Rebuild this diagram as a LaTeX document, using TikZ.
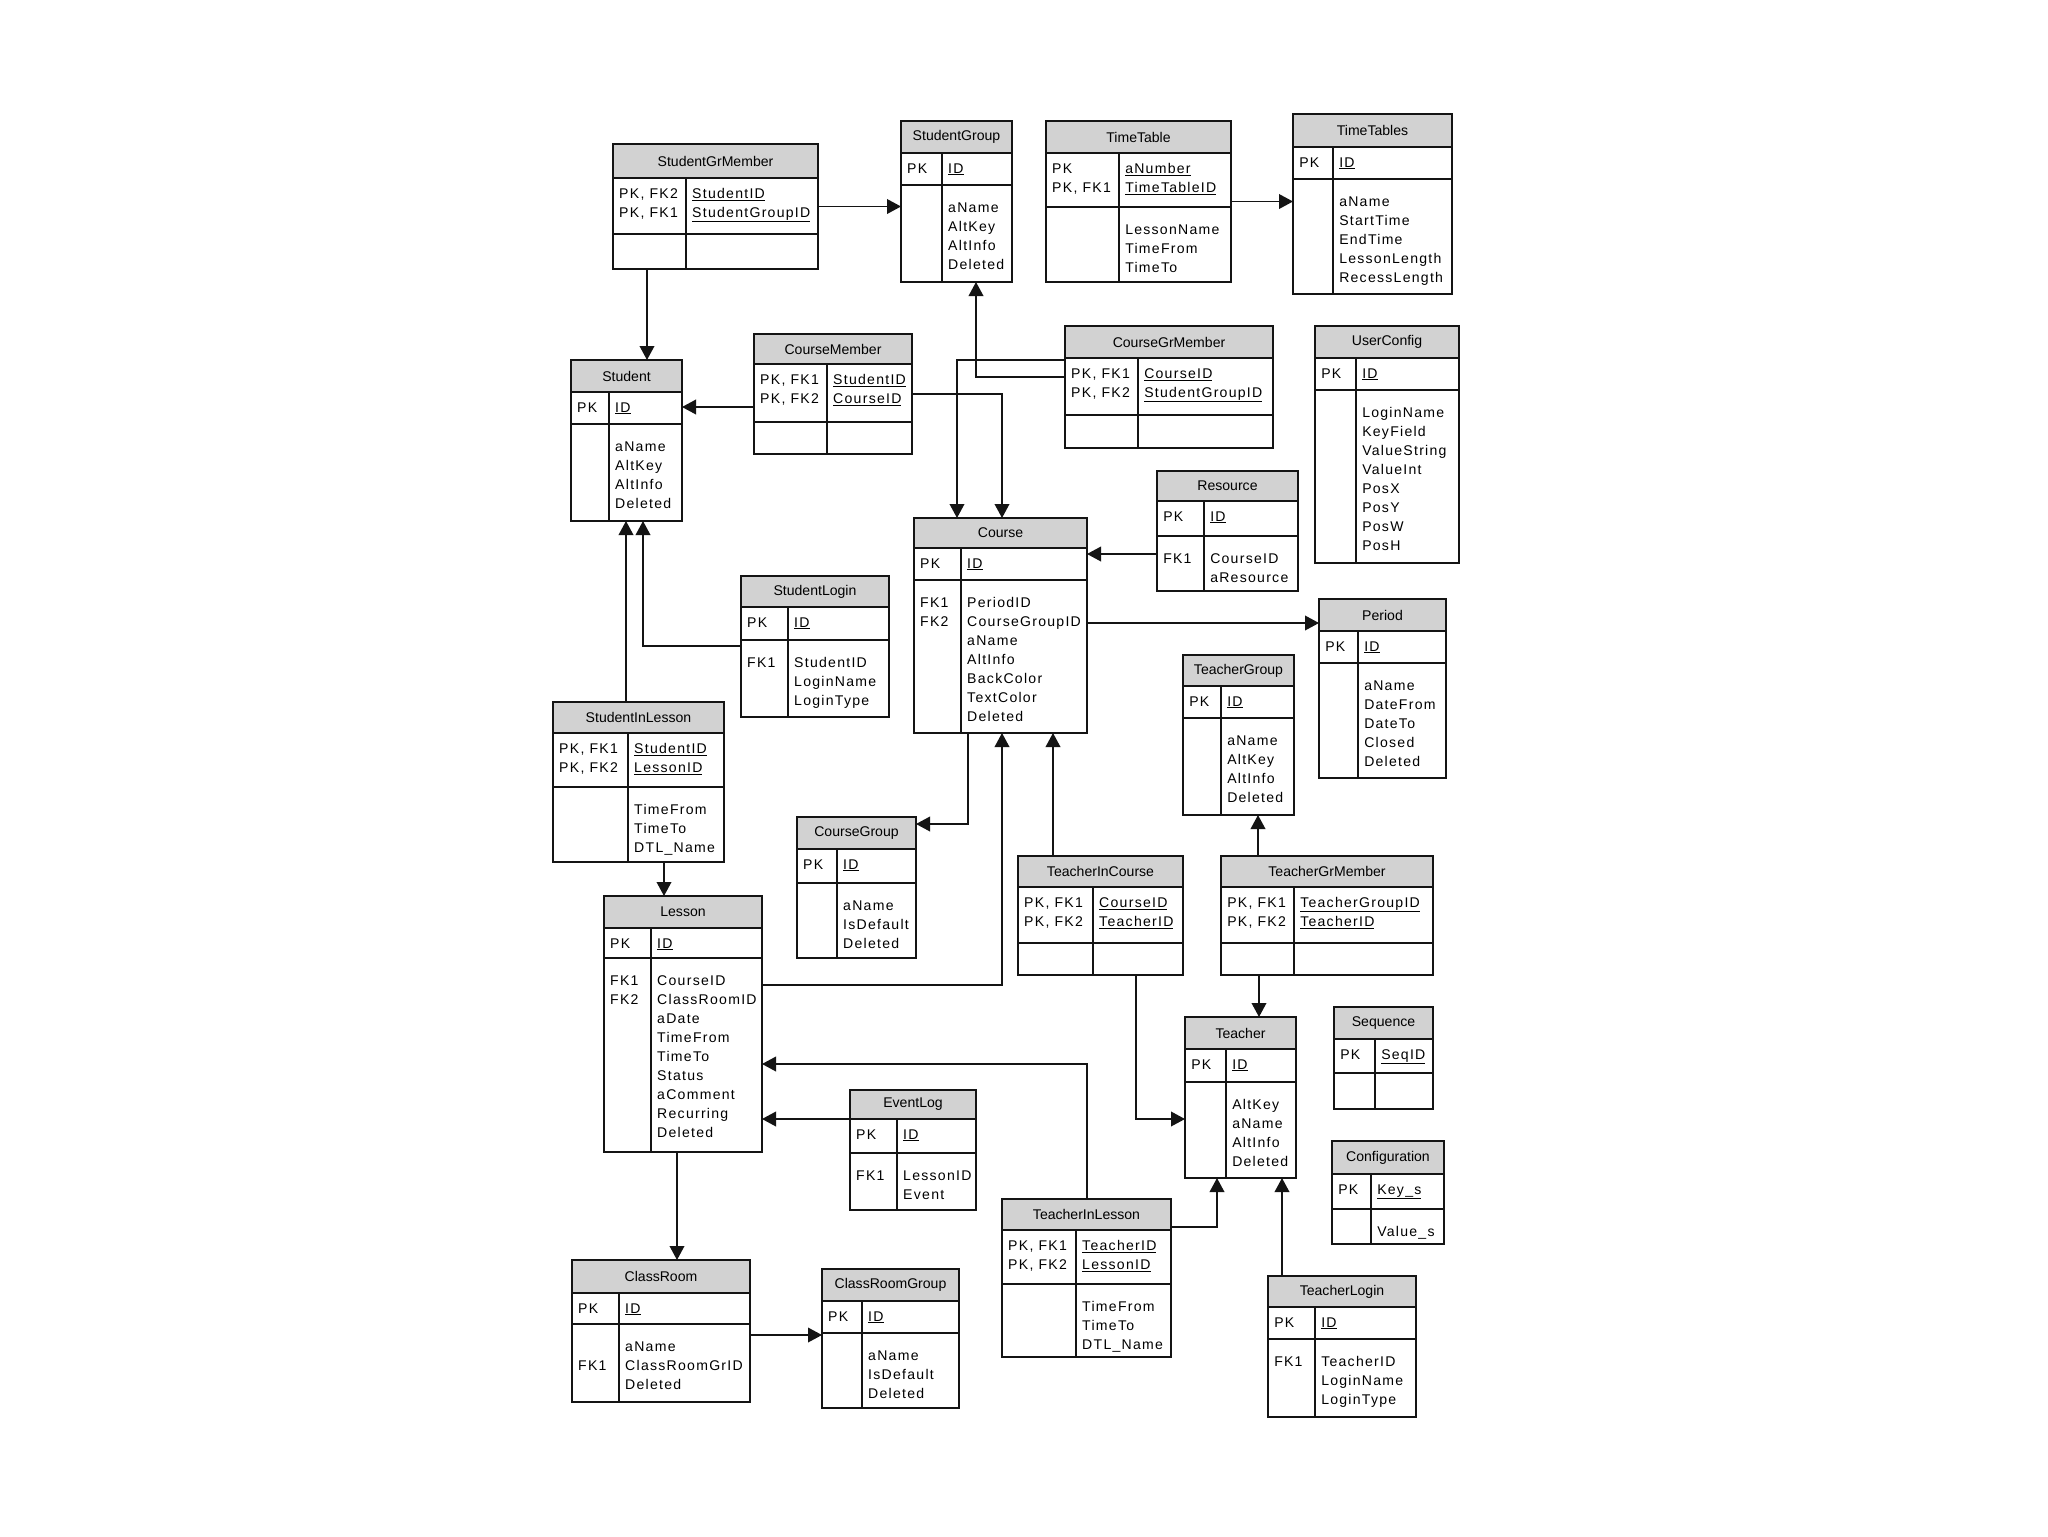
\documentclass[tikz,border=0pt]{standalone}
\usepackage{fontspec}
\setmainfont{Liberation Sans}
\newfontfamily\cellfamily{Liberation Sans}[LetterSpace=9]
\usetikzlibrary{arrows.meta, calc, fit}
\definecolor{hdrgray}{HTML}{D2D2D2}
\definecolor{inkblack}{HTML}{141414}
\tikzset{
  tbl/.style={draw=inkblack, line width=1.4pt},
  hdr/.style={font=\fontsize{12}{14}\selectfont, inner sep=0pt},
  cell/.style={font=\cellfamily\fontsize{12}{14}\selectfont, anchor=base west, inner sep=0pt},
  fk/.style={-{Triangle[length=0.42cm, width=0.44cm]}, line width=1.3pt, draw=inkblack},
}
% name, x1, y1, x2, y2, header bottom, key bottom, divider, title
\newcommand\ertable[9]{%
  \node[fit={(#2,#3) (#4,#5)}, inner sep=0pt, outer sep=0pt] (#1) {};
  \fill[hdrgray] (#2,#3) rectangle (#4,#6);
  \draw[tbl] (#2,#3) rectangle (#4,#5) (#2,#6) -- (#4,#6) (#2,#7) -- (#4,#7) (#8,#6) -- (#8,#5);
  \node[hdr] (#1-title) at ($(#2,#3)!0.5!(#4,#6)$) {#9};
  \coordinate (#1-k) at (#2+6,#6+20);
  \coordinate (#1-kn) at (#8+6,#6+20);
  \coordinate (#1-a) at (#2+6,#7+27);
  \coordinate (#1-an) at (#8+6,#7+27);
}
\newcommand\erlines[2]{%
  \foreach \txt [count=\i from 0] in {#2}
    \node[cell] (#1-\i) at ($(#1)+(0,19*\i)$) {\txt};
}
\begin{document}
\begin{tikzpicture}[x=0.03cm, y=-0.03cm]
  \path[use as bounding box, fill=white] (0,0) rectangle (2048,1536);

  \ertable{StudentGrMember}{613}{144}{818}{269}{178}{234}{686}{StudentGrMember}
  \erlines{StudentGrMember-k}{{PK, FK2},{PK, FK1}}
  \erlines{StudentGrMember-kn}{\underline{StudentID},\underline{StudentGroupID}}

  \ertable{StudentGroup}{901}{121}{1012}{282}{153}{185}{942}{StudentGroup}
  \erlines{StudentGroup-k}{PK}
  \erlines{StudentGroup-kn}{\underline{ID}}
  \erlines{StudentGroup-an}{aName,AltKey,AltInfo,Deleted}

  \ertable{TimeTable}{1046}{121}{1231}{282}{153}{207}{1119}{TimeTable}
  \erlines{TimeTable-k}{PK,{PK, FK1}}
  \erlines{TimeTable-kn}{\underline{aNumber},\underline{TimeTableID}}
  \erlines{TimeTable-an}{LessonName,TimeFrom,TimeTo}

  \ertable{TimeTables}{1293}{114}{1452}{294}{147}{179}{1333}{TimeTables}
  \erlines{TimeTables-k}{PK}
  \erlines{TimeTables-kn}{\underline{ID}}
  \erlines{TimeTables-an}{aName,StartTime,EndTime,LessonLength,RecessLength}

  \ertable{Student}{571}{360}{682}{521}{392}{424}{609}{Student}
  \erlines{Student-k}{PK}
  \erlines{Student-kn}{\underline{ID}}
  \erlines{Student-an}{aName,AltKey,AltInfo,Deleted}

  \ertable{CourseMember}{754}{334}{912}{454}{364}{422}{827}{CourseMember}
  \erlines{CourseMember-k}{{PK, FK1},{PK, FK2}}
  \erlines{CourseMember-kn}{\underline{StudentID},\underline{CourseID}}

  \ertable{CourseGrMember}{1065}{326}{1273}{448}{358}{415}{1138}{CourseGrMember}
  \erlines{CourseGrMember-k}{{PK, FK1},{PK, FK2}}
  \erlines{CourseGrMember-kn}{\underline{CourseID},\underline{StudentGroupID}}

  \ertable{UserConfig}{1315}{326}{1459}{563}{358}{390}{1356}{UserConfig}
  \erlines{UserConfig-k}{PK}
  \erlines{UserConfig-kn}{\underline{ID}}
  \erlines{UserConfig-an}{LoginName,KeyField,ValueString,ValueInt,PosX,PosY,PosW,PosH}

  \ertable{Resource}{1157}{471}{1298}{591}{501}{536}{1204}{Resource}
  \erlines{Resource-k}{PK}
  \erlines{Resource-kn}{\underline{ID}}
  \erlines{Resource-a}{FK1}
  \erlines{Resource-an}{CourseID,aResource}

  \ertable{Course}{914}{518}{1087}{733}{548}{580}{961}{Course}
  \erlines{Course-k}{PK}
  \erlines{Course-kn}{\underline{ID}}
  \erlines{Course-a}{FK1,FK2}
  \erlines{Course-an}{PeriodID,CourseGroupID,aName,AltInfo,BackColor,TextColor,Deleted}

  \ertable{StudentLogin}{741}{576}{889}{717}{607}{640}{788}{StudentLogin}
  \erlines{StudentLogin-k}{PK}
  \erlines{StudentLogin-kn}{\underline{ID}}
  \erlines{StudentLogin-a}{FK1}
  \erlines{StudentLogin-an}{StudentID,LoginName,LoginType}

  \ertable{Period}{1319}{599}{1446}{778}{631}{663}{1358}{Period}
  \erlines{Period-k}{PK}
  \erlines{Period-kn}{\underline{ID}}
  \erlines{Period-an}{aName,DateFrom,DateTo,Closed,Deleted}

  \ertable{TeacherGroup}{1183}{655}{1294}{815}{686}{718}{1221}{TeacherGroup}
  \erlines{TeacherGroup-k}{PK}
  \erlines{TeacherGroup-kn}{\underline{ID}}
  \erlines{TeacherGroup-an}{aName,AltKey,AltInfo,Deleted}

  \ertable{StudentInLesson}{553}{702}{724}{862}{733}{787}{628}{StudentInLesson}
  \erlines{StudentInLesson-k}{{PK, FK1},{PK, FK2}}
  \erlines{StudentInLesson-kn}{\underline{StudentID},\underline{LessonID}}
  \erlines{StudentInLesson-an}{TimeFrom,TimeTo,DTL\_Name}

  \ertable{CourseGroup}{797}{817}{916}{958}{849}{883}{837}{CourseGroup}
  \erlines{CourseGroup-k}{PK}
  \erlines{CourseGroup-kn}{\underline{ID}}
  \erlines{CourseGroup-an}{aName,IsDefault,Deleted}

  \ertable{TeacherInCourse}{1018}{856}{1183}{975}{887}{943}{1093}{TeacherInCourse}
  \erlines{TeacherInCourse-k}{{PK, FK1},{PK, FK2}}
  \erlines{TeacherInCourse-kn}{\underline{CourseID},\underline{TeacherID}}

  \ertable{TeacherGrMember}{1221}{856}{1433}{975}{887}{943}{1294}{TeacherGrMember}
  \erlines{TeacherGrMember-k}{{PK, FK1},{PK, FK2}}
  \erlines{TeacherGrMember-kn}{\underline{TeacherGroupID},\underline{TeacherID}}

  \ertable{Lesson}{604}{896}{762}{1152}{928}{958}{651}{Lesson}
  \erlines{Lesson-k}{PK}
  \erlines{Lesson-kn}{\underline{ID}}
  \erlines{Lesson-a}{FK1,FK2}
  \erlines{Lesson-an}{CourseID,ClassRoomID,aDate,TimeFrom,TimeTo,Status,aComment,Recurring,Deleted}

  \ertable{Sequence}{1334}{1007}{1433}{1109}{1039}{1073}{1375}{Sequence}
  \erlines{Sequence-k}{PK}
  \erlines{Sequence-kn}{\underline{SeqID}}

  \ertable{Teacher}{1185}{1017}{1296}{1178}{1049}{1082}{1226}{Teacher}
  \erlines{Teacher-k}{PK}
  \erlines{Teacher-kn}{\underline{ID}}
  \erlines{Teacher-an}{AltKey,aName,AltInfo,Deleted}

  \ertable{EventLog}{850}{1090}{976}{1210}{1119}{1153}{897}{EventLog}
  \erlines{EventLog-k}{PK}
  \erlines{EventLog-kn}{\underline{ID}}
  \erlines{EventLog-a}{FK1}
  \erlines{EventLog-an}{LessonID,Event}

  \ertable{Configuration}{1332}{1141}{1444}{1244}{1174}{1209}{1371}{Configuration}
  \erlines{Configuration-k}{PK}
  \erlines{Configuration-kn}{\underline{Key\_s}}
  \erlines{Configuration-an}{Value\_s}

  \ertable{TeacherInLesson}{1002}{1199}{1171}{1357}{1230}{1284}{1076}{TeacherInLesson}
  \erlines{TeacherInLesson-k}{{PK, FK1},{PK, FK2}}
  \erlines{TeacherInLesson-kn}{\underline{TeacherID},\underline{LessonID}}
  \erlines{TeacherInLesson-an}{TimeFrom,TimeTo,DTL\_Name}

  \ertable{ClassRoom}{572}{1260}{750}{1402}{1293}{1324}{619}{ClassRoom}
  \erlines{ClassRoom-k}{PK}
  \erlines{ClassRoom-kn}{\underline{ID}}
  \node[cell] (ClassRoom-fk) at ($(ClassRoom-a)+(0,19)$) {FK1};
  \erlines{ClassRoom-an}{aName,ClassRoomGrID,Deleted}

  \ertable{ClassRoomGroup}{822}{1269}{959}{1408}{1301}{1333}{862}{ClassRoomGroup}
  \erlines{ClassRoomGroup-k}{PK}
  \erlines{ClassRoomGroup-kn}{\underline{ID}}
  \erlines{ClassRoomGroup-an}{aName,IsDefault,Deleted}

  \ertable{TeacherLogin}{1268}{1276}{1416}{1417}{1307}{1339}{1315}{TeacherLogin}
  \erlines{TeacherLogin-k}{PK}
  \erlines{TeacherLogin-kn}{\underline{ID}}
  \erlines{TeacherLogin-a}{FK1}
  \erlines{TeacherLogin-an}{TeacherID,LoginName,LoginType}

  % relations
  \draw[fk] (StudentGrMember.east) -- (StudentGrMember.east -| StudentGroup.west);
  \draw[fk] ($(StudentGrMember.south west)+(34,0)$) -- ($(Student.north west)+(76,0)$);
  \draw[fk] (TimeTable.east) -- (TimeTable.east -| TimeTables.west);
  \draw[fk] ($(CourseMember.north west)+(0,73)$) -- ($(Student.north east)+(0,47)$);
  \draw[fk] (CourseMember.east) -| ($(Course.north west)+(88,0)$);
  \draw[fk] ($(CourseGrMember.north west)+(0,51)$) -| ($(StudentGroup.south west)+(75,0)$);
  \draw[fk] ($(CourseGrMember.north west)+(0,34)$) -| ($(Course.north west)+(43,0)$);
  \draw[fk] ($(Resource.north west)+(0,83)$) -- ($(Course.north east)+(0,36)$);
  \draw[fk] ($(Course.north east)+(0,105)$) -- ($(Period.north west)+(0,24)$);
  \draw[fk] ($(StudentLogin.north west)+(0,70)$) -| ($(Student.south west)+(72,0)$);
  \draw[fk] ($(StudentInLesson.north west)+(73,0)$) -- ($(Student.south west)+(55,0)$);
  \draw[fk] ($(StudentInLesson.south west)+(111,0)$) -- ($(Lesson.north west)+(60,0)$);
  \draw[fk] ($(Course.south west)+(54,0)$) |- ($(CourseGroup.north east)+(0,7)$);
  \draw[fk] ($(Lesson.north east)+(0,89)$) -| ($(Course.south west)+(88,0)$);
  \draw[fk] ($(TeacherInCourse.north west)+(35,0)$) -- ($(Course.south west)+(139,0)$);
  \draw[fk] ($(TeacherInCourse.south west)+(118,0)$) |- ($(Teacher.north west)+(0,102)$);
  \draw[fk] ($(TeacherGrMember.north west)+(37,0)$) -- ($(TeacherGroup.south west)+(75,0)$);
  \draw[fk] ($(TeacherGrMember.south west)+(38,0)$) -- ($(Teacher.north west)+(74,0)$);
  \draw[fk] ($(TeacherInLesson.north east)+(0,28)$) -| ($(Teacher.south west)+(32,0)$);
  \draw[fk] ($(TeacherLogin.north west)+(14,0)$) -- ($(Teacher.south west)+(97,0)$);
  \draw[fk] ($(TeacherInLesson.north west)+(85,0)$) |- ($(Lesson.north east)+(0,168)$);
  \draw[fk] ($(EventLog.north west)+(0,29)$) -- ($(Lesson.north east)+(0,223)$);
  \draw[fk] ($(Lesson.south west)+(73,0)$) -- ($(ClassRoom.north west)+(105,0)$);
  \draw[fk] ($(ClassRoom.north east)+(0,75)$) -- ($(ClassRoomGroup.north west)+(0,66)$);
\end{tikzpicture}
\end{document}
